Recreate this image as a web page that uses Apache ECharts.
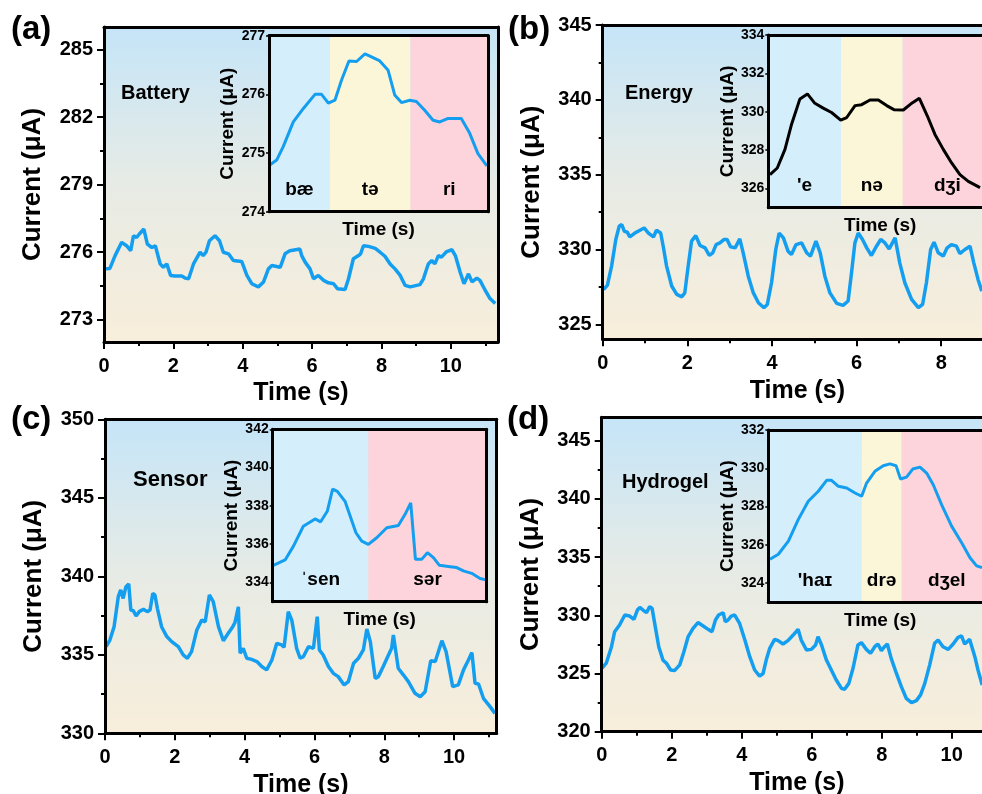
<!DOCTYPE html>
<html>
<head>
<meta charset="utf-8">
<script src="https://cdn.jsdelivr.net/npm/echarts@6/dist/echarts.min.js"></script>
<style>
  html, body { margin: 0; padding: 0; background: #fff; }
  #chart { width: 982px; height: 794px; }
</style>
</head>
<body>
<div id="chart"></div>
<script>
// ---- data ----
var aTime = [0.03,0.17,0.32,0.51,0.65,0.77,0.85,0.94,1.02,1.15,1.25,1.38,1.48,1.62,1.71,1.81,1.92,2.05,2.24,2.34,2.44,2.58,2.77,2.86,2.94,3.04,3.20,3.33,3.44,3.59,3.73,3.97,4.12,4.26,4.45,4.60,4.74,4.84,5.08,5.22,5.36,5.65,5.70,5.80,5.94,6.04,6.18,6.33,6.47,6.62,6.73,6.95,7.05,7.19,7.34,7.40,7.48,7.63,7.82,7.96,8.10,8.25,8.39,8.54,8.68,8.83,9.11,9.21,9.35,9.45,9.54,9.64,9.73,9.88,10.03,10.13,10.27,10.38,10.51,10.61,10.75,10.84,10.99,11.13,11.28];
var aCurrent = [275.25,275.27,275.84,276.43,276.28,276.06,276.72,276.65,276.80,277.02,276.35,276.20,276.28,275.47,275.32,275.47,274.96,274.93,274.93,274.84,274.81,275.47,275.99,275.84,275.99,276.50,276.72,276.50,275.99,275.92,275.62,275.58,274.96,274.59,274.45,274.67,275.25,275.40,275.32,275.92,276.06,276.13,275.84,275.55,275.25,274.81,274.96,274.74,274.63,274.59,274.37,274.33,274.81,275.70,275.84,275.92,276.28,276.25,276.16,275.99,275.81,275.47,275.25,274.96,274.52,274.45,274.55,274.81,275.47,275.62,275.47,275.84,275.77,276.02,276.10,275.84,275.10,274.59,275.03,274.67,274.84,274.74,274.30,273.93,273.71];

var bTime = [0.02,0.11,0.21,0.31,0.39,0.45,0.51,0.58,0.64,0.76,0.88,0.98,1.08,1.20,1.27,1.37,1.43,1.51,1.63,1.75,1.87,1.94,2.02,2.10,2.20,2.30,2.42,2.52,2.60,2.68,2.77,2.87,2.94,3.02,3.13,3.24,3.32,3.44,3.56,3.68,3.81,3.89,3.99,4.09,4.17,4.27,4.38,4.46,4.57,4.70,4.82,4.91,5.04,5.14,5.25,5.37,5.53,5.68,5.80,5.88,5.96,6.04,6.14,6.24,6.35,6.47,6.57,6.67,6.77,6.91,7.02,7.14,7.30,7.46,7.56,7.65,7.75,7.83,7.93,8.05,8.14,8.24,8.36,8.44,8.56,8.68,8.77,8.87,8.96];
var bCurrent = [327.33,327.60,328.89,330.67,331.56,331.67,331.22,331.16,330.84,331.10,331.29,331.44,331.10,330.84,331.29,331.10,330.22,328.89,327.56,327.00,326.84,327.10,328.89,330.56,330.93,330.27,330.11,329.60,329.78,330.33,330.44,330.67,330.67,330.18,330.11,330.71,329.78,328.22,327.10,326.44,326.11,326.33,327.78,330.00,331.10,330.78,329.89,329.67,330.33,330.44,329.78,329.56,330.56,329.78,328.22,327.10,326.40,326.27,326.56,328.44,330.44,331.10,330.67,330.11,329.60,330.22,330.67,330.44,330.04,330.78,329.11,327.78,326.67,326.11,326.33,327.78,330.00,330.49,329.78,329.56,330.11,330.33,330.22,329.73,330.00,330.22,329.11,328.00,327.22];

var cTime = [0.03,0.14,0.26,0.38,0.45,0.52,0.60,0.68,0.74,0.81,0.89,0.98,1.10,1.21,1.29,1.37,1.43,1.50,1.62,1.77,1.91,2.10,2.24,2.36,2.48,2.63,2.77,2.87,2.99,3.10,3.25,3.39,3.53,3.66,3.72,3.82,3.87,3.96,4.06,4.20,4.35,4.49,4.63,4.78,4.92,5.06,5.13,5.25,5.35,5.49,5.59,5.68,5.83,5.97,6.08,6.14,6.25,6.40,6.54,6.68,6.85,6.97,7.12,7.26,7.40,7.50,7.60,7.74,7.83,7.97,8.12,8.21,8.26,8.40,8.55,8.69,8.88,9.03,9.17,9.33,9.46,9.65,9.77,9.96,10.12,10.27,10.41,10.51,10.60,10.70,10.84,11.03,11.17];
var cCurrent = [335.52,335.94,336.79,338.70,339.13,338.59,339.34,339.51,337.85,337.81,337.47,337.75,337.90,337.75,337.85,338.92,338.81,337.96,336.79,336.16,335.84,335.52,334.99,334.78,335.20,336.58,337.21,337.10,338.81,338.39,336.79,335.90,336.37,336.79,337.04,338.06,335.10,335.41,334.78,334.71,334.57,334.25,334.04,334.67,335.73,335.63,335.48,337.75,337.21,335.41,334.78,334.88,335.52,335.41,337.43,335.31,334.99,334.25,333.82,333.61,333.08,333.29,334.46,334.78,335.31,336.64,335.84,333.50,333.61,334.25,334.99,335.41,336.26,334.14,333.71,333.29,332.55,332.33,332.65,334.62,334.57,335.90,335.20,332.97,333.08,334.04,334.67,335.14,333.18,333.14,332.23,331.70,331.27];

var dTime = [0.01,0.13,0.28,0.37,0.51,0.66,0.80,0.92,1.02,1.09,1.18,1.28,1.37,1.44,1.53,1.63,1.75,1.85,1.97,2.08,2.23,2.35,2.47,2.61,2.75,2.90,3.04,3.15,3.25,3.34,3.47,3.53,3.61,3.70,3.80,3.94,4.09,4.23,4.37,4.51,4.61,4.70,4.80,4.94,5.04,5.18,5.32,5.47,5.61,5.70,5.85,5.99,6.11,6.18,6.28,6.42,6.56,6.70,6.85,6.94,7.06,7.18,7.32,7.42,7.56,7.68,7.80,7.89,7.99,8.08,8.16,8.27,8.42,8.56,8.70,8.85,8.99,9.11,9.23,9.37,9.51,9.61,9.75,9.90,10.04,10.18,10.28,10.37,10.51,10.66,10.75,10.87];
var dCurrent = [325.45,325.88,327.30,328.59,329.16,330.02,329.93,329.65,330.45,330.68,330.45,330.22,330.74,330.59,329.02,327.30,326.15,325.88,325.30,325.25,325.74,326.88,328.17,328.88,329.37,329.08,328.79,328.59,329.59,330.02,330.22,329.45,329.59,329.93,330.02,329.30,327.87,326.44,325.30,324.78,325.00,326.15,327.16,327.93,327.82,327.53,327.82,328.30,328.79,327.87,327.02,327.07,327.45,328.16,327.45,326.15,325.30,324.44,323.72,323.64,324.15,325.45,327.45,327.65,327.07,326.73,327.30,327.53,326.96,327.30,327.53,326.30,325.00,323.87,322.87,322.50,322.67,323.16,324.15,325.74,327.59,327.87,327.30,327.07,327.53,328.10,328.22,327.53,327.93,326.44,325.30,324.01];

// insets: x is position across the inset (0-100), no time labels in the figure
var aInsetPos = [0.5,3.5,6.5,11.1,15.7,21.0,24.0,27.1,30.1,33.1,36.5,40.0,43.8,46.8,50.6,54.4,57.4,60.5,64.3,67.3,71.1,74.9,78.0,81.8,87.8,91.6,95.4,99.5];
var aInsetCurrent = [274.80,274.88,275.11,275.53,275.76,276.00,276.00,275.85,275.90,276.24,276.57,276.56,276.69,276.64,276.57,276.41,275.99,275.86,275.90,275.88,275.73,275.56,275.53,275.59,275.59,275.34,274.99,274.78];
var bInsetPos = [0.8,4.2,7.8,10.9,14.8,18.3,21.8,25.7,29.6,33.9,36.7,40.6,43.7,47.6,51.5,55.4,58.8,63.2,66.6,70.7,74.4,78.0,81.9,85.8,89.7,93.6,99.1];
var bInsetCurrent = [326.72,327.07,328.04,329.35,330.67,330.93,330.44,330.19,329.96,329.56,329.70,330.32,330.37,330.61,330.61,330.32,330.11,330.09,330.40,330.70,329.79,328.82,328.04,327.33,326.72,326.37,326.05];
var cInsetPos = [0.3,5.8,9.7,14.3,19.8,22.4,25.5,28.0,30.2,33.8,38.9,41.6,44.7,48.6,53.3,58.7,61.8,64.5,66.7,69.6,72.3,75.1,77.9,82.9,86.0,89.1,93.0,96.9,99.7];
var cInsetCurrent = [334.90,335.18,335.90,336.94,337.32,337.17,337.72,338.88,338.76,338.24,336.60,336.16,335.99,336.34,336.86,336.98,337.55,338.16,335.21,335.21,335.56,335.30,334.90,334.83,334.78,334.61,334.48,334.21,334.14];
var dInsetPos = [0.8,4.7,9.4,14.0,18.7,23.4,27.3,29.6,32.8,36.7,40.6,43.7,46.0,49.9,53.8,56.9,59.8,61.9,64.7,67.6,71.0,74.1,77.2,81.1,85.8,90.5,94.4,97.5,100];
var dInsetCurrent = [325.25,325.51,326.20,327.32,328.28,328.80,329.37,329.37,329.06,328.97,328.71,328.54,329.23,329.84,330.13,330.23,330.13,329.44,329.54,329.96,330.06,329.75,329.14,328.10,326.98,326.11,325.33,324.90,324.81];

// syllable bands in the insets: [from, to, syllable]
var aBands = [[0, 27.8, 'bæ'], [27.8, 64.6, 'tə'], [64.6, 100, 'ri']];
var bBands = [[0, 34.0, "'e"], [34.0, 62.9, 'nə'], [62.9, 104.7, 'dʒi']];
var cBands = [[0, 44.7, 'ˈsen'], [44.7, 100, 'sər']];
var dBands = [[0, 43.7, "'haɪ"], [43.7, 62.4, 'drə'], [62.4, 104.7, 'dʒel']];

// tick labels
var aYTicks = [273, 276, 279, 282, 285], aYMinor = [274.5, 277.5, 280.5, 283.5];
var bYTicks = [325, 330, 335, 340, 345], bYMinor = [327.5, 332.5, 337.5, 342.5];
var cYTicks = [330, 335, 340, 345, 350], cYMinor = [332.5, 337.5, 342.5, 347.5];
var dYTicks = [320, 325, 330, 335, 340, 345], dYMinor = [322.5, 327.5, 332.5, 337.5, 342.5];
var xTicks10 = [0, 2, 4, 6, 8, 10], xMinor10 = [1, 3, 5, 7, 9, 11];
var xTicks8 = [0, 2, 4, 6, 8], xMinor8 = [1, 3, 5, 7, 9];
var aInsetTicks = [274, 275, 276, 277];
var bInsetTicks = [326, 328, 330, 332, 334];
var cInsetTicks = [334, 336, 338, 340, 342];
var dInsetTicks = [324, 326, 328, 330, 332];

// ---- chart ----
var FONT = 'Liberation Sans, Arial, sans-serif';
var BLUE = '#149ef0';
var bandColors = ['#d4eefb', '#fbf6d8', '#fdd4db'];
var bg = {
    type: 'linear', x: 0, y: 0, x2: 0, y2: 1,
    colorStops: [
        {offset: 0, color: '#c5e5f8'},
        {offset: 0.5, color: '#e7ebe5'},
        {offset: 1, color: '#f8eedb'}
    ]
};

var grids = [], xAxes = [], yAxes = [], series = [];

function txt(size) {
    return {fontFamily: FONT, fontWeight: 'bold', color: '#000', fontSize: size};
}

function pairs(xs, ys) {
    return xs.map(function (x, i) { return [x, ys[i]]; });
}

function frameAxis(list, gi, pos, range, lw) {
    list.push({
        gridIndex: gi, type: 'value', position: pos, min: range[0], max: range[1], z: 6,
        axisLine: {show: true, onZero: false, lineStyle: {color: '#000', width: lw}},
        axisTick: {show: false}, axisLabel: {show: false}, splitLine: {show: false}
    });
}

function minorAxis(list, gi, pos, range, vals) {
    list.push({
        gridIndex: gi, type: 'value', position: pos, min: range[0], max: range[1], z: 6,
        axisLine: {show: false, onZero: false},
        axisTick: {show: true, customValues: vals, length: 4, lineStyle: {color: '#000', width: 2}},
        axisLabel: {show: false}, splitLine: {show: false}
    });
}

function addMain(box, xr, yr, xt, xm, yt, ym, xs, ys) {
    var gi = grids.length;
    grids.push({left: box[0], top: box[1], width: box[2], height: box[3], outerBoundsMode: 'none',
        show: true, backgroundColor: bg, borderWidth: 0});
    var xi = xAxes.length, yi = yAxes.length;
    xAxes.push({
        gridIndex: gi, type: 'value', position: 'bottom', min: xr[0], max: xr[1], z: 6,
        axisLine: {show: true, onZero: false, lineStyle: {color: '#000', width: 3}},
        axisTick: {show: true, customValues: xt, length: 7, lineStyle: {color: '#000', width: 2}},
        axisLabel: Object.assign({customValues: xt, margin: 14}, txt(20)),
        splitLine: {show: false},
        name: 'Time (s)', nameLocation: 'middle', nameGap: 39, nameTextStyle: txt(25)
    });
    yAxes.push({
        gridIndex: gi, type: 'value', position: 'left', min: yr[0], max: yr[1], z: 6,
        axisLine: {show: true, onZero: false, lineStyle: {color: '#000', width: 3}},
        axisTick: {show: true, customValues: yt, length: 7, lineStyle: {color: '#000', width: 2}},
        axisLabel: Object.assign({customValues: yt, margin: 11}, txt(20)),
        splitLine: {show: false},
        name: 'Current (μA)', nameLocation: 'middle', nameGap: 58, nameTextStyle: txt(26)
    });
    frameAxis(xAxes, gi, 'top', xr, 3);
    frameAxis(yAxes, gi, 'right', yr, 3);
    minorAxis(xAxes, gi, 'bottom', xr, xm);
    minorAxis(yAxes, gi, 'left', yr, ym);
    series.push({
        type: 'line', xAxisIndex: xi, yAxisIndex: yi, data: pairs(xs, ys),
        symbol: 'none', lineStyle: {color: BLUE, width: 3.5}, z: 3
    });
}

function addInset(box, xr, yr, yt, xs, ys, bands, color) {
    var gi = grids.length;
    grids.push({left: box[0], top: box[1], width: box[2], height: box[3], outerBoundsMode: 'none'});
    var xi = xAxes.length, yi = yAxes.length;
    xAxes.push({
        gridIndex: gi, type: 'value', position: 'bottom', min: xr[0], max: xr[1], z: 6,
        axisLine: {show: true, onZero: false, lineStyle: {color: '#000', width: 3}},
        axisTick: {show: false}, axisLabel: {show: false}, splitLine: {show: false},
        name: 'Time (s)', nameLocation: 'middle', nameGap: 9, nameTextStyle: txt(19)
    });
    yAxes.push({
        gridIndex: gi, type: 'value', position: 'left', min: yr[0], max: yr[1], z: 6,
        axisLine: {show: true, onZero: false, lineStyle: {color: '#000', width: 3}},
        axisTick: {show: true, customValues: yt, length: 3, lineStyle: {color: '#000', width: 1.5}},
        axisLabel: Object.assign({customValues: yt, margin: 4}, txt(14)),
        splitLine: {show: false},
        name: 'Current (μA)', nameLocation: 'middle', nameGap: 30, nameTextStyle: txt(19)
    });
    frameAxis(xAxes, gi, 'top', xr, 3);
    frameAxis(yAxes, gi, 'right', yr, 3);
    var areas = bands.map(function (b, i) {
        var c = bands.length === 2 ? bandColors[i * 2] : bandColors[i];
        return [{xAxis: b[0], name: b[2], itemStyle: {color: c}}, {xAxis: b[1]}];
    });
    series.push({
        type: 'line', xAxisIndex: xi, yAxisIndex: yi, data: pairs(xs, ys),
        symbol: 'none', lineStyle: {color: color, width: 3}, z: 4,
        markArea: {
            silent: true,
            label: Object.assign({show: true, position: 'insideBottom', distance: 12}, txt(19)),
            data: areas
        }
    });
}

addMain([104, 27, 394, 315], [0, 11.36], [272, 286], xTicks10, xMinor10, aYTicks, aYMinor, aTime, aCurrent);
addMain([602.7, 25, 389.3, 314.3], [0, 9.20], [324, 345], xTicks8, xMinor8, bYTicks, bYMinor, bTime, bCurrent);
addMain([105, 419.3, 391.7, 314], [0, 11.22], [330, 350], xTicks10, xMinor10, cYTicks, cYMinor, cTime, cCurrent);
addMain([601.7, 417.3, 390.3, 314.4], [0, 11.15], [320, 347], xTicks10, xMinor10, dYTicks, dYMinor, dTime, dCurrent);

addInset([269, 35.7, 219, 176], [0, 100], [274, 277], aInsetTicks, aInsetPos, aInsetCurrent, aBands, BLUE);
addInset([768.3, 35, 223.7, 172.7], [0, 104.7], [325, 334], bInsetTicks, bInsetPos, bInsetCurrent, bBands, '#000');
addInset([272.7, 429.3, 214, 172.4], [0, 100], [333, 342], cInsetTicks, cInsetPos, cInsetCurrent, cBands, BLUE);
addInset([768.3, 430, 223.7, 172.3], [0, 104.7], [323, 332], dInsetTicks, dInsetPos, dInsetCurrent, dBands, BLUE);

function label(text, left, top, size) {
    return {type: 'text', left: left, top: top, z: 10,
        style: {text: text, fontFamily: FONT, fontWeight: 'bold', fontSize: size, fill: '#000'}};
}

var myChart = echarts.init(document.getElementById('chart'));
myChart.setOption({
    animation: false,
    grid: grids,
    xAxis: xAxes,
    yAxis: yAxes,
    series: series,
    graphic: [
        label('(a)', 11, 13, 33),
        label('(b)', 508, 13, 33),
        label('(c)', 11, 403, 33),
        label('(d)', 507, 403, 33),
        label('Battery', 121, 83, 20),
        label('Energy', 625, 83, 20),
        label('Sensor', 133, 469, 22),
        label('Hydrogel', 622, 472, 20)
    ]
});
window.addEventListener('resize', function () {
    myChart.resize();
});
</script>
</body>
</html>
